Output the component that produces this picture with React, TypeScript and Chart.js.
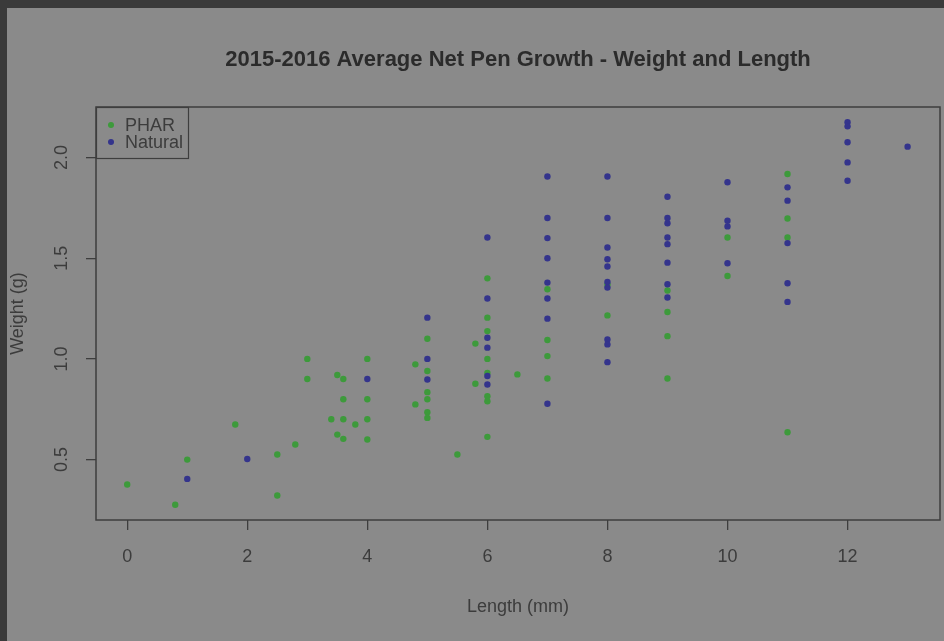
import React, { useEffect, useRef } from "react";
import { Chart, registerables } from "chart.js";

Chart.register(...registerables);

const TITLE = "2015-2016 Average Net Pen Growth - Weight and Length";
const X_TITLE = "Length (mm)";
const Y_TITLE = "Weight (g)";
const SERIES_NAMES = ["PHAR", "Natural"];
const X_TICKS = [0, 2, 4, 6, 8, 10, 12];
const X_TICK_LABELS = ["0", "2", "4", "6", "8", "10", "12"];
const Y_TICKS = [0.5, 1.0, 1.5, 2.0];
const Y_TICK_LABELS = ["0.5", "1.0", "1.5", "2.0"];

const pharX = [
  0, 0.8, 1, 1.8, 2.5, 2.5, 2.8, 3, 3, 3.5, 3.6, 3.6, 3.4, 3.6, 3.8, 3.5, 3.6,
  4, 4, 4, 4, 4.8, 4.8, 5, 5, 5, 5, 5, 5, 5.5, 5.8, 5.8,
  6, 6, 6, 6, 6, 6, 6, 6, 6.5, 7, 7, 7, 7, 8, 8, 9, 9, 9, 9, 10, 10, 11, 11, 11, 11,
];
const pharY = [
  0.376, 0.276, 0.5, 0.674, 0.525, 0.322, 0.575, 1.0, 0.9, 0.92, 0.9, 0.8, 0.7, 0.7, 0.674, 0.624, 0.603,
  1.0, 0.8, 0.7, 0.6, 0.973, 0.774, 1.1, 0.94, 0.835, 0.8, 0.735, 0.707, 0.525, 1.076, 0.877,
  1.4, 1.205, 1.138, 1.0, 0.93, 0.815, 0.79, 0.613, 0.923, 1.346, 1.094, 1.014, 0.903, 1.37, 1.216,
  1.34, 1.233, 1.113, 0.903, 1.603, 1.412, 1.918, 1.697, 1.603, 0.636,
];

const naturalX = [
  1, 2, 4, 5, 5, 5, 6, 6, 6, 6, 6, 6, 7, 7, 7, 7, 7, 7, 7, 7,
  8, 8, 8, 8, 8, 8, 8, 8, 8, 8, 9, 9, 9, 9, 9, 9, 9, 9,
  10, 10, 10, 10, 11, 11, 11, 11, 11, 12, 12, 12, 12, 12, 13,
];
const naturalY = [
  0.404, 0.503, 0.9, 1.205, 1.0, 0.898, 1.603, 1.3, 1.105, 1.056, 0.915, 0.873,
  1.906, 1.7, 1.6, 1.5, 1.379, 1.3, 1.2, 0.777,
  1.906, 1.7, 1.553, 1.495, 1.459, 1.382, 1.354, 1.097, 1.072, 0.984,
  1.805, 1.7, 1.674, 1.603, 1.57, 1.478, 1.371, 1.305,
  1.877, 1.686, 1.658, 1.475, 1.852, 1.786, 1.575, 1.376, 1.283,
  2.175, 2.155, 2.076, 1.976, 1.885, 2.054,
];

const GREEN = "#3d9a3b";
const BLUE = "#34348c";
const FONT = "'Liberation Sans', Arial, Helvetica, sans-serif";
const TEXT = "#3c3c3c";
const AXIS = "#3e3e3e";

const toPoints = (xs: number[], ys: number[]) => xs.map((x, i) => ({ x, y: ys[i] }));

const backgroundPlugin = {
  id: "panelBackground",
  beforeDraw(chart: any) {
    const { ctx, width, height } = chart;
    ctx.save();
    ctx.fillStyle = "#3a3a3a";
    ctx.fillRect(0, 0, width, height);
    ctx.fillStyle = "#8a8a8a";
    ctx.fillRect(7, 8, width - 7, height - 8);
    ctx.restore();
  },
};

const boxLegendPlugin = {
  id: "boxLegend",
  afterDraw(chart: any) {
    const { ctx, chartArea } = chart;
    ctx.save();
    ctx.strokeStyle = AXIS;
    ctx.lineWidth = 1.5;
    ctx.strokeRect(chartArea.left, chartArea.top, chartArea.right - chartArea.left, chartArea.bottom - chartArea.top);
    // legend box in the top-left corner
    const x0 = chartArea.left;
    const y0 = chartArea.top;
    ctx.lineWidth = 1.2;
    ctx.strokeRect(x0 + 0.5, y0 + 0.5, 92, 51);
    chart.data.datasets.forEach((ds: any, i: number) => {
      const cy = y0 + 18 + i * 17;
      ctx.beginPath();
      ctx.fillStyle = ds.backgroundColor;
      ctx.arc(x0 + 15, cy, 3, 0, Math.PI * 2);
      ctx.fill();
      ctx.fillStyle = TEXT;
      ctx.font = `18px ${FONT}`;
      ctx.textBaseline = "middle";
      ctx.textAlign = "left";
      ctx.fillText(ds.label, x0 + 29, cy + 1);
    });
    ctx.restore();
  },
};

export default function App() {
  const canvasRef = useRef<HTMLCanvasElement | null>(null);

  useEffect(() => {
    if (!canvasRef.current) return;
    const chart = new Chart(canvasRef.current, {
      type: "scatter",
      data: {
        datasets: [
          {
            label: SERIES_NAMES[0],
            data: toPoints(pharX, pharY),
            backgroundColor: GREEN,
            borderWidth: 0,
            pointRadius: 3.2,
            order: 1,
          },
          {
            label: SERIES_NAMES[1],
            data: toPoints(naturalX, naturalY),
            backgroundColor: BLUE,
            borderWidth: 0,
            pointRadius: 3.2,
            order: 0,
          },
        ],
      },
      options: {
        responsive: false,
        animation: false,
        layout: { padding: { left: 0, right: 4, top: 0, bottom: 0 } },
        plugins: {
          legend: { display: false },
          tooltip: { enabled: false },
          title: {
            display: true,
            text: TITLE,
            fullSize: false,
            color: "#2b2b2b",
            font: { family: FONT, size: 22, weight: "bold" },
            padding: { top: 47, bottom: 33.6 },
          },
        },
        scales: {
          x: {
            type: "linear",
            min: -0.52,
            max: 13.54,
            afterBuildTicks: (s: any) => {
              s.ticks = X_TICKS.map((v) => ({ value: v }));
            },
            afterFit: (s: any) => {
              s.height = 121;
            },
            ticks: {
              callback: (v: any) => X_TICK_LABELS[X_TICKS.indexOf(v)],
              color: TEXT,
              font: { family: FONT, size: 18 },
              padding: 16,
              maxRotation: 0,
              autoSkip: false,
            },
            grid: { drawOnChartArea: false, drawTicks: true, tickLength: 10, color: AXIS, lineWidth: 1.3 },
            border: { display: false },
            title: {
              display: true,
              text: X_TITLE,
              color: TEXT,
              font: { family: FONT, size: 18 },
              padding: { top: 0, bottom: 23 },
            },
          },
          y: {
            type: "linear",
            min: 0.2,
            max: 2.251,
            afterBuildTicks: (s: any) => {
              s.ticks = Y_TICKS.map((v) => ({ value: v }));
            },
            afterFit: (s: any) => {
              s.width = 96;
            },
            ticks: {
              callback: (v: any) => Y_TICK_LABELS[Y_TICKS.indexOf(v)],
              color: TEXT,
              font: { family: FONT, size: 18 },
              minRotation: 90,
              maxRotation: 90,
              crossAlign: "center",
              padding: 11,
              autoSkip: false,
            },
            grid: { drawOnChartArea: false, drawTicks: true, tickLength: 10, color: AXIS, lineWidth: 1.3 },
            border: { display: false },
            title: {
              display: true,
              text: Y_TITLE,
              color: TEXT,
              font: { family: FONT, size: 18 },
              padding: { top: 7, bottom: 0 },
            },
          },
        },
      } as any,
      plugins: [backgroundPlugin, boxLegendPlugin],
    });
    return () => chart.destroy();
  }, []);

  return (
    <div style={{ position: "fixed", left: 0, top: 0, width: 944, height: 641 }}>
      <canvas ref={canvasRef} width={944} height={641} style={{ display: "block" }} />
    </div>
  );
}
